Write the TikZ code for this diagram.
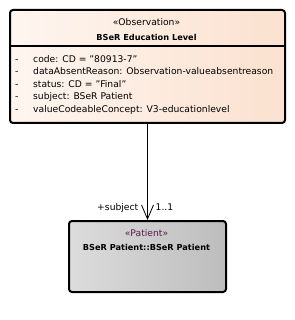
\documentclass[tikz,border=0pt]{standalone}
\usepackage{fontspec}
\setmainfont{DejaVu Sans}
\usetikzlibrary{positioning,arrows.meta}
\definecolor{obsleft}{HTML}{FEF6F0}
\definecolor{obsright}{HTML}{FBE1CF}
\definecolor{patleft}{HTML}{DCDCDC}
\definecolor{patright}{HTML}{BDBDBD}
\definecolor{stereo}{HTML}{5A1A4E}

\begin{document}
\begin{tikzpicture}[x=1pt,y=-1pt,
    classbox/.style={draw=black, line width=2pt, rounded corners=3pt, inner sep=0pt},
    txt/.style={font=\fontsize{9.2}{11}\selectfont, inner sep=0pt},
    bold/.style={txt, font=\fontsize{8.2}{11}\selectfont\bfseries}]
\useasboundingbox (0,0) rectangle (294,320);
% classes
\node[classbox, left color=obsleft, right color=obsright, minimum width=275pt, minimum height=113pt, anchor=north west] (obs) at (9,9) {};
\node[classbox, left color=patleft, right color=patright, minimum width=157pt, minimum height=71pt, anchor=north west] (pat) at (68,220) {};
\draw[line width=2pt] ([yshift=-37pt]obs.north west) -- ([yshift=-37pt]obs.north east);
% headers
\node[txt, anchor=base] (obsstereo) at (146.5,26) {«Observation»};
\node[bold, anchor=base] (obsname) at (146.5,40.5) {BSeR Education Level};
\node[txt, anchor=base, text=stereo] (patstereo) at (146.5,236.5) {«Patient»};
\node[bold, anchor=base] (patname) at (146.5,250.5) {BSeR Patient::BSeR Patient};
% attributes
\foreach \attr [count=\i] in {code: CD = "80913-7", dataAbsentReason: Observation-valueabsentreason, status: CD = "Final", subject: BSeR Patient, valueCodeableConcept: V3-educationlevel} {
    \node[txt, anchor=base west] (dash\i) at (15,50+12.5*\i) {-};
    \node[txt, anchor=base west] (attr\i) at (33,50+12.5*\i) {\attr};
}
% association
\draw[-{Straight Barb[length=14pt,width=12pt]}, line width=0.8pt] (obs.south) -- (pat.north);
\node[txt, anchor=base east] (role) at ([xshift=-9pt,yshift=10pt]pat.north) {+subject};
\node[txt, anchor=base west] (mult) at ([xshift=8pt,yshift=10pt]pat.north) {1..1};
\end{tikzpicture}
\end{document}
